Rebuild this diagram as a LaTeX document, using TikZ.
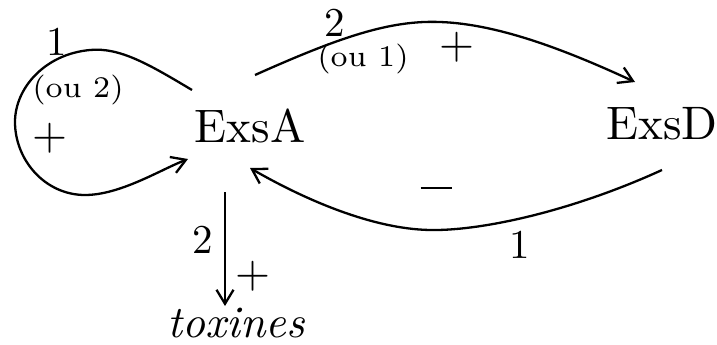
\documentclass[tikz,border=0pt]{standalone}
\usepackage{fontspec}
\setmainfont{lmroman10-regular.otf}[ItalicFont=lmroman10-italic.otf]
\newfontfamily\sevenfont{lmroman7-regular.otf}
\usetikzlibrary{arrows.meta}
\begin{document}
\begin{tikzpicture}[x=1pt,y=-1pt,line width=2.3pt,
  >={Straight Barb[length=14pt,width=17pt]},
  big/.style={font=\fontsize{47}{56}\selectfont,inner sep=0pt},
  num/.style={font=\fontsize{41}{48}\selectfont,inner sep=0pt},
  small/.style={font=\sevenfont\fontsize{30}{36}\selectfont,inner sep=0pt},
  sign/.style={font=\fontsize{45}{54}\selectfont,inner sep=0pt}]
\useasboundingbox (0,0) rectangle (717,345);
\node[big,anchor=base] (A) at (250,142) {ExsA};
\node[big,anchor=base] (D) at (662,139) {ExsD};
\node[anchor=base,inner sep=0pt,font=\fontsize{45}{54}\selectfont\itshape] (T) at (236,337) {toxines};
% self loop
\draw[->] ([shift={(-58,-52)}]A.base) .. controls (150,65) and (120,47) .. (90,50)
  .. controls (45,54) and (15,88) .. (15,122)
  .. controls (15,160) and (45,195) .. (85,195)
  .. controls (120,195) and (160,170) .. ([shift={(-62,17)}]A.base);
\node[num] (l1) at (57,42) {1};
\node[small] (l2) at (78,90) {(ou 2)};
\node[sign] (l3) at (50,138) {+};
% A -> D
\draw[->] ([shift={(5,-67)}]A.base) .. controls (340,37) and (390,20) .. (440,22)
  .. controls (500,24) and (570,52) .. ([shift={(-27,-57)}]D.base);
\node[num] (l4) at (335,23) {2};
\node[small] (l5) at (363,59) {(ou 1)};
\node[sign] (l6) at (457,47) {+};
% D -> A
\draw[->] ([shift={(0,31)}]D.base) .. controls (570,212) and (480,231) .. (430,230)
  .. controls (370,229) and (300,197) .. ([shift={(0,26)}]A.base);
\node[inner sep=0pt] (l7) at (436,188) {\rule{31pt}{1.8pt}};
\node[num] (l8) at (520,245) {1};
% A -> toxines
\draw[->] ([shift={(-25,50)}]A.base) -- ([shift={(-11,-31)}]T.base);
\node[num] (l9) at (203,240) {2};
\node[sign] (l10) at (253,276) {+};
\end{tikzpicture}
\end{document}
